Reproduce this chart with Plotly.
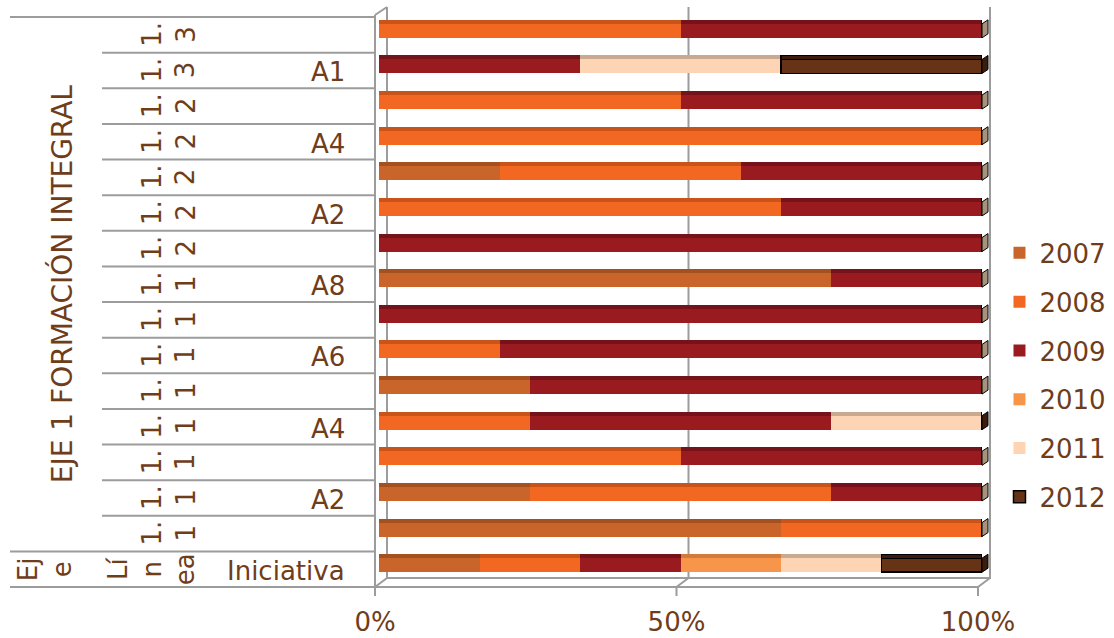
import plotly.graph_objects as go

# Rows listed top to bottom: the last row is the table header of the category axis
lineas = ["1.1.3", "1.1.3", "1.1.2", "1.1.2", "1.1.2", "1.1.2", "1.1.2",
          "1.1.1", "1.1.1", "1.1.1", "1.1.1", "1.1.1", "1.1.1", "1.1.1", "1.1.1"]
iniciativas = ["", "A1", "", "A4", "", "A2", "", "A8", "", "A6", "", "A4", "", "A2", ""]
eje_label = "EJE 1 FORMACIÓN INTEGRAL"
header = {"eje": "Ej<br>e", "linea": "Lí<br>n<br>ea", "iniciativa": "Iniciativa"}

years = ["2007", "2008", "2009", "2010", "2011", "2012"]

# Counts per year for each row (100% stacked, the header row included)
c2007 = [0, 0, 0, 0, 1, 0, 0, 3, 0, 0, 1, 0, 0, 1, 2, 1]
c2008 = [1, 0, 1, 1, 2, 2, 0, 0, 0, 1, 0, 1, 1, 2, 1, 1]
c2009 = [1, 1, 1, 0, 2, 1, 1, 1, 1, 4, 3, 2, 1, 1, 0, 1]
c2010 = [0, 0, 0, 0, 0, 0, 0, 0, 0, 0, 0, 0, 0, 0, 0, 1]
c2011 = [0, 1, 0, 0, 0, 0, 0, 0, 0, 0, 0, 1, 0, 0, 0, 1]
c2012 = [0, 1, 0, 0, 0, 0, 0, 0, 0, 0, 0, 0, 0, 0, 0, 1]
counts = [c2007, c2008, c2009, c2010, c2011, c2012]

colors = ["#C9652A", "#F26722", "#9A1B1F", "#F7964A", "#FDD5B5", "#663316"]
top_colors = ["#A4511F", "#C9541A", "#74131A", "#D27B3B", "#C9AA90", "#3A1D0C"]
CAP_LIGHT, CAP_DARK = "#A8927A", "#3A1D0C"

TEXT = "#6F3D1A"
GRID = "#9C9C9C"
FONT = "DejaVu Sans"

n_rows = len(c2007)
ypos = list(range(n_rows - 1, -1, -1))  # top row gets the highest position
top_edge = ypos[0] + 0.5
bottom_edge = ypos[-1] - 0.5
yrange = [bottom_edge, top_edge]


def py(y):
    """Row position on the y axis -> paper fraction of the plot area."""
    return (y - yrange[0]) / (yrange[1] - yrange[0])


BAR_W, BAR_OFF = 0.393, -0.085      # front face of each bar
TOP_W, TOP_OFF = 0.112, 0.308       # thin top face above it

fig = go.Figure()

for k, yr in enumerate(years):
    edge = dict(width=1.5, color="black") if yr == "2012" else dict(width=0)
    fig.add_trace(go.Bar(
        y=ypos, x=counts[k], orientation="h", name=yr,
        width=BAR_W, offset=BAR_OFF,
        marker=dict(color=colors[k], line=edge),
        legendgroup=yr, hoverinfo="skip",
    ))

for k, yr in enumerate(years):
    edge = dict(width=1.2, color="black") if yr == "2012" else dict(width=0)
    fig.add_trace(go.Bar(
        y=ypos, x=counts[k], orientation="h", name=yr, yaxis="y2",
        width=TOP_W, offset=TOP_OFF,
        marker=dict(color=top_colors[k], line=edge),
        legendgroup=yr, showlegend=False, hoverinfo="skip",
    ))


def seg(xa, x0, x1, ya, y0, y1, layer="below", width=2):
    return dict(type="line", xref="paper", xsizemode="pixel", xanchor=xa, x0=x0, x1=x1,
                yref="paper", ysizemode="pixel", yanchor=ya, y0=y0, y1=y1,
                line=dict(color=GRID, width=width), layer=layer)


shapes = []
# 3-D frame: floor, back wall gridlines, left wall
shapes.append(seg(0, -4, 600, 0, 0, 0))
shapes.append(seg(0, 8, 612, 0, 9, 9))
for v in (0, 0.5, 1):
    shapes.append(seg(v, -4, 8, 0, 0, 9))
    shapes.append(seg(v, 8, 8, 0, 9, 580))
    shapes.append(seg(v, -4, -4, 0, 0, -9))
shapes.append(seg(0, -4, -4, 0, 0, 572))
shapes.append(seg(0, -4, 8, 0, 572, 580))

# Category table rules on the left
for i in range(n_rows + 1):
    b = top_edge - i
    wide = b in (top_edge, bottom_edge, bottom_edge + 1)
    shapes.append(seg(0, -369 if wide else -277, -4, py(b), 0, 0))

# End faces of the bars at 100 %
for i, y in enumerate(ypos):
    dark = counts[4][i] > 0 or counts[5][i] > 0
    shapes.append(dict(
        type="path", xref="paper", xsizemode="pixel", xanchor=1,
        yref="paper", ysizemode="pixel", yanchor=py(y),
        path="M0,-3 L0,11 L6,15 L6,1 Z",
        fillcolor=CAP_DARK if dark else CAP_LIGHT,
        line=dict(color="black", width=1), layer="above",
    ))

annotations = []
lab_font = dict(family=FONT, size=26, color=TEXT)
for i, code in enumerate(lineas):
    y = ypos[i]
    # the narrow cell only shows the tail of the wrapped code
    annotations.append(dict(
        x=0, xref="x", y=y, yref="y", xshift=-210, text=f"{code[2:4]}<br>{code[4:]}",
        textangle=-90, showarrow=False, font=lab_font, xanchor="center", yanchor="middle",
    ))
    if iniciativas[i]:
        annotations.append(dict(
            x=0, xref="x", y=y, yref="y", xshift=-32, yshift=-2, text=iniciativas[i],
            showarrow=False, font=lab_font, xanchor="right", yanchor="middle",
        ))

y_head = ypos[-1]
annotations += [
    dict(x=0, xref="x", y=y_head, yref="y", xshift=-334, text=header["eje"], textangle=-90,
         showarrow=False, font=lab_font, xanchor="center", yanchor="middle"),
    dict(x=0, xref="x", y=y_head, yref="y", xshift=-227, text=header["linea"], textangle=-90,
         showarrow=False, font=lab_font, xanchor="center", yanchor="middle"),
    dict(x=0, xref="x", y=y_head, yref="y", xshift=-32, yshift=-2, text=header["iniciativa"],
         showarrow=False, font=lab_font, xanchor="right", yanchor="middle"),
    dict(x=0, xref="x", y=sum(ypos[:-1]) / len(ypos[:-1]), yref="y", xshift=-317,
         text=eje_label, textangle=-90, showarrow=False,
         font=dict(family=FONT, size=28, color=TEXT), xanchor="center", yanchor="middle"),
]

fig.update_layout(
    width=1114, height=638,
    margin=dict(l=379, r=132, t=17, b=51, pad=0, autoexpand=False),
    paper_bgcolor="white", plot_bgcolor="white",
    barmode="stack", barnorm="fraction",
    font=dict(family=FONT, size=26, color=TEXT),
    xaxis=dict(range=[0, 1], tickvals=[0, 0.5, 1], tickformat=".0%",
               showgrid=False, zeroline=False, showline=False, ticks="",
               ticklabelstandoff=17, ticklabelshift=-4, automargin=False,
               tickfont=dict(family=FONT, size=26, color=TEXT)),
    yaxis=dict(range=yrange, showticklabels=False, showgrid=False, zeroline=False,
               showline=False, ticks="", automargin=False),
    yaxis2=dict(range=yrange, overlaying="y", anchor="x", visible=False),
    legend=dict(x=1.029, y=0.372, xanchor="left", yanchor="middle",
                traceorder="grouped", tracegroupgap=12,
                font=dict(family=FONT, size=26, color=TEXT),
                bgcolor="rgba(0,0,0,0)"),
    shapes=shapes,
    annotations=annotations,
    hovermode=False,
)

fig.write_html("out.html")
